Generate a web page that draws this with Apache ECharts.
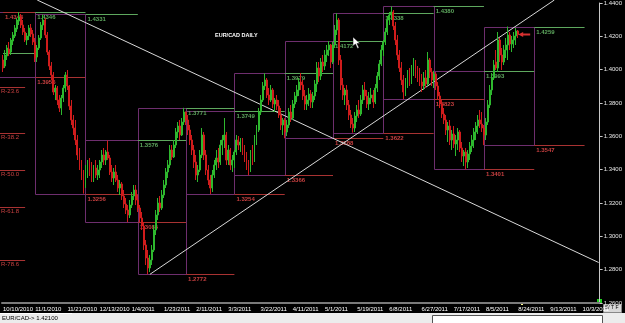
<!DOCTYPE html>
<html><head><meta charset="utf-8">
<script src="https://cdn.jsdelivr.net/npm/echarts@6/dist/echarts.min.js"></script>
<style>html,body{margin:0;padding:0;background:#000;overflow:hidden}#c{width:625px;height:323px}</style>
</head><body><div id="c"></div>
<script>
// x tick labels (every 16 bars)
const tickLabels = ['10/10/2010','11/1/2010','11/21/2010','12/13/2010','1/4/2011','1/23/2011','2/11/2011','3/3/2011','3/22/2011','4/11/2011','5/1/2011','5/19/2011','6/8/2011','6/27/2011','7/17/2011','8/5/2011','8/24/2011','9/13/2011','10/3/2011'];
const slotCount = 297;
// daily bars [open, close, low, high]
const bars = [
// Oct 2010
[1.4058,1.4010,1.3986,1.4088],[1.4022,1.4088,1.4010,1.4118],[1.4082,1.4130,1.4058,1.4148],[1.4124,1.4100,1.4082,1.4166],
[1.4106,1.4178,1.4088,1.4190],[1.4172,1.4208,1.4148,1.4226],[1.4202,1.4250,1.4190,1.4268],[1.4244,1.4298,1.4226,1.4310],
[1.4292,1.4316,1.4268,1.4346],[1.4316,1.4268,1.4250,1.4334],[1.4268,1.4226,1.4208,1.4298],[1.4226,1.4178,1.4166,1.4250],
[1.4178,1.4202,1.4148,1.4220],[1.4202,1.4250,1.4178,1.4268],[1.4250,1.4214,1.4196,1.4274],[1.4214,1.4166,1.4148,1.4238],
// Nov 2010
[1.4166,1.4070,1.4046,1.4190],[1.4076,1.4130,1.4046,1.4148],[1.4130,1.4190,1.4118,1.4208],[1.4190,1.4268,1.4178,1.4286],
[1.4268,1.4298,1.4238,1.4331],[1.4298,1.4208,1.4190,1.4310],[1.4208,1.4106,1.4088,1.4226],[1.4106,1.4022,1.3998,1.4118],
[1.4022,1.3968,1.3938,1.4046],[1.3968,1.3866,1.3848,1.3986],[1.3866,1.3890,1.3818,1.3908],[1.3890,1.3818,1.3788,1.3902],
[1.3818,1.3770,1.3746,1.3848],[1.3770,1.3830,1.3728,1.3848],[1.3830,1.3890,1.3806,1.3908],[1.3890,1.3968,1.3866,1.3986],
[1.3968,1.3902,1.3878,1.3998],[1.3902,1.3782,1.3758,1.3908],[1.3782,1.3698,1.3668,1.3818],[1.3698,1.3650,1.3608,1.3728],
[1.3650,1.3578,1.3548,1.3698],[1.3578,1.3488,1.3458,1.3608],[1.3488,1.3428,1.3398,1.3530],[1.3428,1.3362,1.3338,1.3458],
[1.3362,1.3308,1.3256,1.3398],
// Dec 2010
[1.3308,1.3398,1.3290,1.3428],[1.3398,1.3428,1.3350,1.3458],[1.3428,1.3386,1.3362,1.3470],[1.3386,1.3350,1.3326,1.3446],
[1.3350,1.3410,1.3326,1.3428],[1.3410,1.3368,1.3350,1.3458],[1.3368,1.3398,1.3338,1.3428],[1.3398,1.3446,1.3350,1.3458],
[1.3446,1.3488,1.3410,1.3518],[1.3488,1.3458,1.3428,1.3530],[1.3458,1.3506,1.3428,1.3518],[1.3506,1.3470,1.3458,1.3576],
[1.3470,1.3386,1.3368,1.3488],[1.3386,1.3350,1.3326,1.3428],[1.3350,1.3386,1.3308,1.3410],[1.3386,1.3338,1.3326,1.3428],
[1.3338,1.3290,1.3266,1.3368],[1.3290,1.3314,1.3248,1.3338],[1.3314,1.3242,1.3218,1.3326],[1.3242,1.3194,1.3170,1.3278],
[1.3194,1.3158,1.3134,1.3230],[1.3158,1.3128,1.3085,1.3188],[1.3128,1.3188,1.3110,1.3218],[1.3188,1.3242,1.3170,1.3266],
[1.3242,1.3278,1.3218,1.3308],[1.3278,1.3218,1.3188,1.3308],
// Jan 2011
[1.3218,1.3170,1.3146,1.3248],[1.3170,1.3110,1.3086,1.3188],[1.3110,1.3062,1.3038,1.3146],[1.3062,1.2948,1.2918,1.3086],
[1.2948,1.2870,1.2828,1.2978],[1.2870,1.2810,1.2772,1.2918],[1.2810,1.2858,1.2786,1.2888],[1.2858,1.2918,1.2828,1.2948],
[1.2918,1.3038,1.2906,1.3068],[1.3038,1.3128,1.3008,1.3158],[1.3128,1.3200,1.3098,1.3230],[1.3200,1.3170,1.3146,1.3242],
[1.3170,1.3248,1.3158,1.3278],[1.3248,1.3308,1.3230,1.3338],[1.3308,1.3386,1.3290,1.3410],[1.3386,1.3428,1.3350,1.3458],
[1.3428,1.3518,1.3410,1.3548],[1.3518,1.3476,1.3458,1.3548],[1.3476,1.3548,1.3470,1.3578],[1.3548,1.3626,1.3530,1.3650],
[1.3626,1.3662,1.3590,1.3686],[1.3662,1.3608,1.3578,1.3698],[1.3608,1.3686,1.3602,1.3710],[1.3686,1.3746,1.3668,1.3771],
// Feb 2011
[1.3746,1.3698,1.3668,1.3749],[1.3698,1.3638,1.3608,1.3728],[1.3638,1.3578,1.3548,1.3668],[1.3578,1.3518,1.3488,1.3608],
[1.3518,1.3446,1.3410,1.3548],[1.3446,1.3368,1.3338,1.3488],[1.3368,1.3398,1.3326,1.3428],[1.3398,1.3488,1.3386,1.3518],
[1.3488,1.3608,1.3470,1.3650],[1.3608,1.3488,1.3458,1.3626],[1.3488,1.3398,1.3368,1.3518],[1.3398,1.3338,1.3308,1.3428],
[1.3338,1.3290,1.3254,1.3368],[1.3290,1.3368,1.3266,1.3398],[1.3368,1.3428,1.3350,1.3458],[1.3428,1.3470,1.3398,1.3518],
[1.3470,1.3446,1.3410,1.3530],[1.3446,1.3548,1.3428,1.3578],[1.3548,1.3578,1.3488,1.3608],[1.3578,1.3608,1.3530,1.3710],
[1.3608,1.3458,1.3428,1.3626],[1.3458,1.3518,1.3428,1.3548],[1.3518,1.3428,1.3398,1.3530],[1.3428,1.3458,1.3386,1.3488],
// Mar 2011
[1.3458,1.3506,1.3410,1.3518],[1.3506,1.3578,1.3488,1.3608],[1.3578,1.3548,1.3518,1.3602],[1.3548,1.3566,1.3506,1.3590],
[1.3566,1.3518,1.3488,1.3590],[1.3518,1.3470,1.3446,1.3548],[1.3470,1.3428,1.3398,1.3506],[1.3428,1.3398,1.3366,1.3458],
[1.3398,1.3488,1.3386,1.3518],[1.3488,1.3458,1.3428,1.3548],[1.3458,1.3578,1.3446,1.3608],[1.3578,1.3638,1.3548,1.3668],
[1.3638,1.3746,1.3626,1.3770],[1.3746,1.3818,1.3728,1.3848],[1.3818,1.3902,1.3806,1.3926],[1.3902,1.3938,1.3878,1.3979],
[1.3938,1.3848,1.3830,1.3950],[1.3848,1.3818,1.3788,1.3890],[1.3818,1.3878,1.3806,1.3908],[1.3878,1.3794,1.3770,1.3890],
[1.3794,1.3818,1.3746,1.3830],[1.3818,1.3782,1.3758,1.3848],[1.3782,1.3728,1.3710,1.3818],[1.3728,1.3668,1.3638,1.3770],
[1.3668,1.3698,1.3608,1.3710],
// Apr 2011
[1.3698,1.3626,1.3588,1.3710],[1.3626,1.3668,1.3602,1.3698],[1.3668,1.3746,1.3650,1.3770],[1.3746,1.3710,1.3686,1.3788],
[1.3710,1.3794,1.3698,1.3818],[1.3794,1.3842,1.3770,1.3866],[1.3842,1.3878,1.3806,1.3908],[1.3878,1.3926,1.3842,1.3950],
[1.3926,1.3908,1.3878,1.3980],[1.3908,1.3842,1.3818,1.3938],[1.3842,1.3794,1.3758,1.3878],[1.3794,1.3818,1.3758,1.3848],
[1.3818,1.3854,1.3782,1.3890],[1.3854,1.3806,1.3770,1.3878],[1.3806,1.3842,1.3770,1.3866],[1.3842,1.3914,1.3818,1.3938],
[1.3914,1.4010,1.3866,1.4046],[1.4010,1.3962,1.3926,1.4046],[1.3962,1.4046,1.3938,1.4070],[1.4046,1.4022,1.3986,1.4088],
[1.4022,1.4088,1.3998,1.4118],[1.4088,1.4118,1.4046,1.4148],[1.4118,1.4148,1.4082,1.4172],[1.4148,1.4046,1.4010,1.4154],
// May 2011
[1.4046,1.4148,1.4034,1.4166],[1.4148,1.4238,1.4130,1.4268],[1.4238,1.4298,1.4208,1.4338],[1.4298,1.4058,1.4028,1.4310],
[1.4058,1.3908,1.3878,1.4088],[1.3908,1.3848,1.3818,1.3950],[1.3848,1.3878,1.3788,1.3890],[1.3878,1.3788,1.3758,1.3908],
[1.3788,1.3728,1.3698,1.3818],[1.3728,1.3674,1.3650,1.3758],[1.3674,1.3650,1.3622,1.3710],[1.3650,1.3722,1.3626,1.3746],
[1.3722,1.3758,1.3686,1.3788],[1.3758,1.3734,1.3710,1.3818],[1.3734,1.3818,1.3722,1.3848],[1.3818,1.3878,1.3794,1.3908],
[1.3878,1.3842,1.3818,1.3926],[1.3842,1.3794,1.3770,1.3878],[1.3794,1.3830,1.3758,1.3866],[1.3830,1.3848,1.3794,1.3890],
[1.3848,1.3806,1.3770,1.3878],[1.3806,1.3890,1.3794,1.3914],[1.3890,1.3962,1.3866,1.3986],[1.3962,1.4034,1.3938,1.4058],
[1.4034,1.4118,1.4022,1.4148],
// Jun 2011
[1.4118,1.4166,1.4082,1.4178],[1.4166,1.4226,1.4148,1.4250],[1.4226,1.4298,1.4208,1.4322],[1.4298,1.4328,1.4268,1.4346],
[1.4328,1.4346,1.4298,1.4380],[1.4346,1.4262,1.4238,1.4358],[1.4262,1.4178,1.4148,1.4286],[1.4178,1.4088,1.4058,1.4208],
[1.4088,1.4010,1.3986,1.4118],[1.4010,1.3938,1.3908,1.4046],[1.3938,1.3866,1.3823,1.3968],[1.3866,1.3926,1.3842,1.3950],
[1.3926,1.3968,1.3890,1.3998],[1.3968,1.3938,1.3902,1.4010],[1.3938,1.3998,1.3914,1.4028],[1.3998,1.4046,1.3962,1.4070],
[1.4046,1.3986,1.3950,1.4058],[1.3986,1.3962,1.3926,1.4022],[1.3962,1.3926,1.3902,1.4010],[1.3926,1.3902,1.3866,1.3974],
[1.3902,1.3950,1.3878,1.3986],[1.3950,1.3914,1.3890,1.3998],[1.3914,1.4058,1.3902,1.4106],[1.4058,1.3986,1.3950,1.4070],
[1.3986,1.3938,1.3902,1.4010],
// Jul 2011
[1.3938,1.3974,1.3890,1.3993],[1.3974,1.3902,1.3878,1.3986],[1.3902,1.3842,1.3818,1.3926],[1.3842,1.3794,1.3770,1.3866],
[1.3794,1.3734,1.3710,1.3818],[1.3734,1.3698,1.3674,1.3770],[1.3698,1.3638,1.3608,1.3728],[1.3638,1.3662,1.3566,1.3686],
[1.3662,1.3578,1.3548,1.3698],[1.3578,1.3614,1.3518,1.3638],[1.3614,1.3554,1.3530,1.3662],[1.3554,1.3578,1.3482,1.3608],
[1.3578,1.3626,1.3518,1.3650],[1.3626,1.3530,1.3506,1.3638],[1.3530,1.3482,1.3446,1.3566],[1.3482,1.3506,1.3422,1.3518],
[1.3506,1.3446,1.3401,1.3530],[1.3446,1.3494,1.3410,1.3518],[1.3494,1.3542,1.3458,1.3566],[1.3542,1.3578,1.3506,1.3608],
[1.3578,1.3626,1.3530,1.3650],[1.3626,1.3662,1.3578,1.3686],[1.3662,1.3698,1.3614,1.3728],[1.3698,1.3674,1.3650,1.3758],
[1.3674,1.3650,1.3626,1.3746],
// Aug 2011
[1.3650,1.3608,1.3547,1.3668],[1.3608,1.3686,1.3578,1.3710],[1.3686,1.3788,1.3668,1.3818],[1.3788,1.3878,1.3770,1.3908],
[1.3878,1.3950,1.3848,1.3980],[1.3950,1.4028,1.3938,1.4058],[1.4046,1.4010,1.3998,1.4118],[1.4010,1.4178,1.3986,1.4226],
[1.4178,1.4088,1.4046,1.4190],[1.4088,1.4046,1.3998,1.4130],[1.4046,1.4118,1.4028,1.4148],[1.4118,1.4148,1.4070,1.4190],
[1.4148,1.4208,1.4058,1.4259],[1.4208,1.4154,1.4118,1.4226],[1.4154,1.4178,1.4106,1.4202],[1.4178,1.4202,1.4130,1.4226],
[1.4202,1.4232,1.4148,1.4250],[1.4232,1.4211,1.4190,1.4238]
];
// monthly ranges: Oct 2010 .. Aug 2011
const monthStart = [-16,16,41,67,91,115,140,164,189,214,239,264,289];
const monthHigh = [1.4346,1.4331,1.3576,1.3771,1.3749,1.3979,1.4172,1.4338,1.4380,1.3993,1.4259];
const monthLow  = [1.3956,1.3256,1.3085,1.2772,1.3254,1.3366,1.3588,1.3622,1.3823,1.3401,1.3547];
// levels visible in October (from the previous period)
const priorLevels = [[0,16,1.4346,1],[0,16,1.4100,2]];
// fibonacci labels on left edge
const fibNames = ['R-23.6','R-38.2','R-50.0','R-61.8','R-78.6'];
const fibLevels = [1.3898,1.3621,1.3398,1.3174,1.2855];
// trend lines [index, price]
const trendDown = [[17,1.4418],[296,1.2843]];
const trendUp = [[73,1.2772],[274,1.4418]];
const lastPrice = 1.4211;

const PURPLE='#6e2e6e', GREEN='#5ea85e', RED='#a83232', REDTXT='#c84040';
const FONT='Liberation Sans, Arial, sans-serif';

const categories = [];
for (let i=0;i<slotCount;i++) categories.push(i%16===0 ? tickLabels[i/16] : 'c'+i);

const boxRows = [];
for (let m=0;m<monthHigh.length;m++) boxRows.push([monthStart[m],monthStart[m+1],monthLow[m],monthHigh[m]]);
const levelRows = priorLevels.slice();
for (let m=0;m<monthHigh.length;m++){
  levelRows.push([monthStart[m+1],monthStart[m+2],monthHigh[m],0]);
  levelRows.push([monthStart[m+1],monthStart[m+2],monthLow[m],1]);
}
const fibRows = fibLevels.map((v,i)=>[0,11,v,i]);

const chart = echarts.init(document.getElementById('c'));
chart.setOption({
  backgroundColor:'#000',
  animation:false,
  title:{text:'EUR/CAD DAILY',left:210,top:27,textStyle:{color:'#fff',fontSize:5.5,fontWeight:'bold',fontFamily:FONT}},
  grid:{left:0,right:23,top:3,height:300},
  xAxis:{type:'category',data:categories,boundaryGap:true,
    axisLine:{lineStyle:{color:'#7a7a7a',width:2}},
    axisTick:{interval:15,length:3,lineStyle:{color:'#9a9a9a'}},
    axisLabel:{interval:15,align:'left',color:'#fff',fontSize:6,fontFamily:FONT,margin:3,
      formatter:(v)=>v.charAt(0)==='c'?'':v},
    splitLine:{show:false}},
  yAxis:{type:'value',position:'right',min:1.26,max:1.44,interval:0.02,
    axisLine:{show:true,lineStyle:{color:'#c8c8c8'}},
    axisTick:{show:true,length:3,lineStyle:{color:'#c8c8c8'}},
    axisLabel:{color:'#e8e8e8',fontSize:6,fontFamily:FONT,margin:4,formatter:(v)=>v.toFixed(4)},
    splitLine:{show:false}},
  graphic:[
    {type:'rect',left:0,top:313,shape:{width:625,height:10},style:{fill:'#ececec'}},
    {type:'line',shape:{x1:0,y1:313.5,x2:72,y2:313.5},style:{stroke:'#ffffff',lineWidth:1}},
    {type:'text',left:2,top:315,style:{text:'EUR/CAD-> 1.42100',fill:'#000',font:'6px '+FONT}},
    {type:'rect',left:432,top:315,shape:{width:170,height:9},style:{fill:'#fff',stroke:'#555',lineWidth:1}},
    {type:'rect',left:597,top:299,shape:{width:5,height:5},style:{fill:'#20d020'}},
    {type:'rect',left:521,top:302,shape:{width:2,height:3},style:{fill:'#ffff90'}},
    {type:'rect',left:603,top:304,shape:{width:18,height:8},style:{fill:'#d8d8d8',stroke:'#888'}},
    {type:'text',left:605,top:305,style:{text:'S/ T F',fill:'#000',font:'5px '+FONT}},
    {type:'polygon',shape:{points:[[353,37],[353,46],[355.5,44],[357.5,48.5],[359,47.8],[357,43.5],[360,43.5]]},style:{fill:'#fff',stroke:'#000',lineWidth:0.5},z:100}
  ],
  series:[
    {type:'custom',name:'boxes',data:boxRows,z:1,clip:false,
     renderItem:(params,api)=>{
       const a=api.coord([api.value(0),api.value(3)]), b=api.coord([api.value(1),api.value(2)]);
       const x1=Math.round(a[0])+0.5,y1=Math.round(a[1])+0.5,x2=Math.round(b[0])+0.5,y2=Math.round(b[1])+0.5;
       return {type:'rect',shape:{x:x1,y:y1,width:x2-x1,height:y2-y1},style:{fill:'none',stroke:PURPLE,lineWidth:1}};
     }},
    {type:'custom',name:'levels',data:levelRows,z:2,clip:false,
     renderItem:(params,api)=>{
       const p=api.value(2),k=api.value(3);
       const a=api.coord([api.value(0),p]), b=api.coord([api.value(1),p]);
       const y=Math.round(a[1])+0.5;
       const col=k===1?RED:GREEN, tcol=k===1?REDTXT:GREEN;
       const ch=[{type:'line',shape:{x1:a[0],y1:y,x2:b[0],y2:y},style:{stroke:col,lineWidth:1}}];
       if(k!==2) ch.push({type:'text',x:a[0]+2,y:y+1.5,style:{text:p.toFixed(4),fill:tcol,font:'bold 6px '+FONT,verticalAlign:'top'}});
       return {type:'group',children:ch};
     }},
    {type:'custom',name:'fib',data:fibRows,z:2,clip:false,
     renderItem:(params,api)=>{
       const p=api.value(2);
       const b=api.coord([api.value(1),p]);
       const y=Math.round(b[1])+0.5;
       return {type:'group',children:[
         {type:'line',shape:{x1:0,y1:y,x2:b[0],y2:y},style:{stroke:RED,lineWidth:1}},
         {type:'text',x:1,y:y+1,style:{text:fibNames[api.value(3)],fill:REDTXT,font:'6px '+FONT,verticalAlign:'top'}}
       ]};
     }},
    {type:'line',name:'down',data:trendDown,symbol:'none',clip:false,z:3,lineStyle:{color:'#d8d8d8',width:1}},
    {type:'line',name:'up',data:trendUp,symbol:'none',clip:false,z:3,lineStyle:{color:'#d8d8d8',width:1}},
    {type:'candlestick',name:'EURCAD',data:bars,barWidth:1.4,z:4,
     itemStyle:{color:'#2eb82e',color0:'#d01c1c',borderColor:'#2eb82e',borderColor0:'#d01c1c',borderWidth:1},
     markLine:{symbol:'none',silent:true,data:[{yAxis:lastPrice}],lineStyle:{opacity:0},
       label:{position:'end',distance:1,formatter:()=>lastPrice.toFixed(4),backgroundColor:'#fff',color:'#000',fontSize:6,fontFamily:FONT,padding:[1,2]}},
     markPoint:{silent:true,data:[{coord:[259,lastPrice]}],symbol:'path://M0,5 L5,0 L5,3 L12,3 L12,7 L5,7 L5,10 Z',symbolSize:[12,5],itemStyle:{color:'#d83030'},label:{show:false}}
    }
  ]
});
</script></body></html>
